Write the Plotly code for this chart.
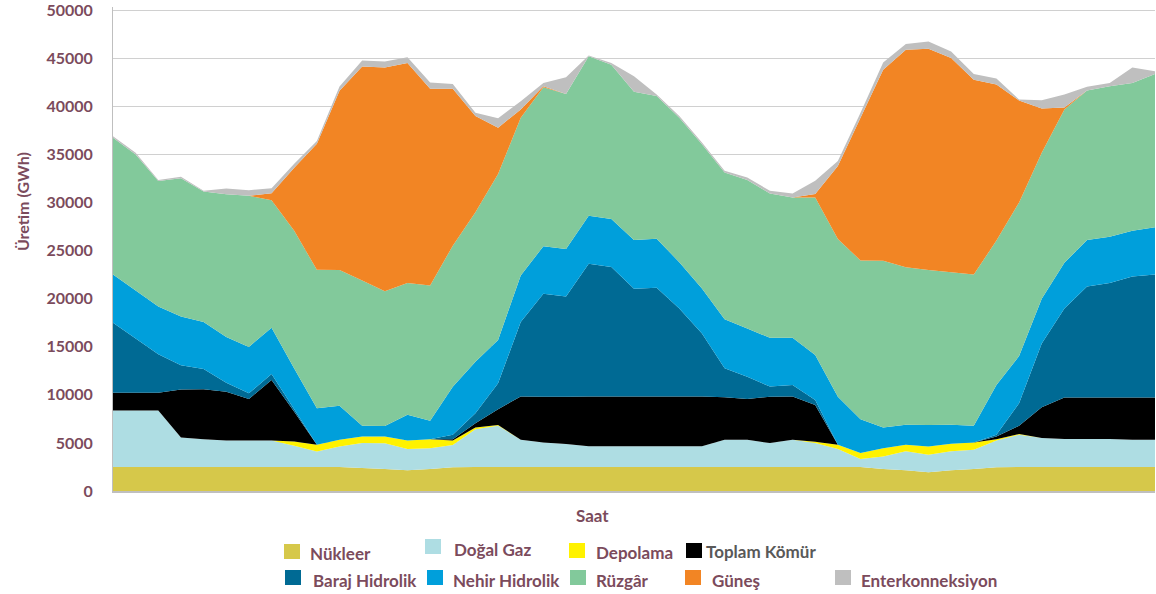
import plotly.graph_objects as go

# ---------------- data (GWh per hour) ----------------
saat = list(range(1, 48))

nukleer = [2500, 2500, 2500, 2500, 2500, 2500, 2500, 2500, 2500, 2500, 2500, 2390, 2280, 2150, 2280, 2460,
           2500, 2500, 2500, 2500, 2500, 2500, 2500, 2500, 2500, 2500, 2500, 2500, 2500, 2500, 2500, 2500,
           2500, 2500, 2280, 2150, 1940, 2150, 2280, 2460, 2500, 2500, 2500, 2500, 2500, 2500, 2500]

dogal_gaz = [5860, 5860, 5860, 3060, 2890, 2750, 2750, 2750, 2200, 1610, 2130, 2590, 2690, 2210, 2170, 2310,
             3930, 4280, 2830, 2550, 2380, 2140, 2140, 2140, 2140, 2140, 2140, 2830, 2830, 2480, 2830, 2480,
             1860, 830, 1310, 1970, 1830, 1970, 2000, 2790, 3350, 3000, 2900, 2900, 2900, 2830, 2830]

depolama = [0, 0, 0, 0, 0, 0, 0, 0, 450, 690, 690, 690, 690, 900, 930, 480,
            170, 70, 0, 0, 0, 0, 0, 0, 0, 0, 0, 0, 0, 0, 0, 140,
            450, 620, 860, 690, 860, 790, 760, 140, 70, 0, 0, 0, 0, 0, 0]

toplam_komur = [1860, 1860, 1860, 5000, 5180, 5070, 4310, 6280, 3100, 0, 0, 0, 0, 0, 0, 140,
                450, 1660, 4490, 4760, 4930, 5180, 5180, 5180, 5180, 5180, 5180, 4420, 4240, 4830, 4490, 3830,
                0, 0, 0, 0, 0, 0, 0, 280, 860, 3210, 4310, 4310, 4310, 4380, 4380]

baraj_hidrolik = [7280, 5620, 4000, 2520, 2100, 930, 590, 620, 240, 0, 0, 0, 0, 0, 0, 450,
                  1040, 2690, 7760, 10700, 10420, 13800, 13460, 11210, 11320, 9140, 6560, 3000, 2310, 1040, 1210, 520,
                  0, 0, 0, 0, 0, 0, 0, 170, 2350, 6620, 9250, 11560, 11900, 12590, 12800]

nehir_hidrolik = [5000, 5000, 4970, 5070, 4900, 4760, 4830, 4830, 4240, 3800, 3550, 1100, 1100, 2660, 1930, 5000,
                  5350, 4490, 4830, 4930, 4930, 5000, 5000, 5070, 5070, 4830, 4660, 5110, 5000, 5070, 4900, 4660,
                  5000, 3520, 2140, 2070, 2240, 1970, 1730, 5180, 4900, 4660, 4760, 4830, 4830, 4760, 4900]

ruzgar = [14210, 14150, 13040, 14350, 13560, 14840, 15700, 13250, 14320, 14390, 14110, 15110, 14010, 13700, 14040, 14660,
          15530, 17250, 16390, 16530, 16110, 16560, 16040, 15390, 14840, 15010, 15010, 15250, 15460, 15010, 14590, 16390,
          16390, 16490, 17350, 16390, 16110, 15870, 15730, 15010, 15970, 15180, 15940, 15530, 15630, 15350, 15940]

gunes = [0, 0, 0, 0, 0, 0, 0, 720, 6560, 13110, 18630, 22250, 23250, 22870, 20460, 16320,
         10010, 4830, 860, 100, 0, 0, 0, 0, 0, 0, 0, 0, 0, 0, 0, 350,
         7590, 14840, 19840, 22600, 22980, 22250, 20250, 16220, 10590, 4590, 200, 0, 0, 0, 0]

enterkonneksiyon = [170, 170, 100, 170, 70, 590, 590, 520, 410, 280, 450, 620, 620, 590, 660, 480,
                    350, 970, 860, 350, 1730, 100, 170, 1620, 170, 170, 170, 170, 240, 280, 410, 1380,
                    520, 520, 760, 590, 760, 690, 590, 620, 100, 860, 1350, 380, 350, 1620, 280]

seri_adlari = ["Nükleer", "Doğal Gaz", "Depolama", "Toplam Kömür", "Baraj Hidrolik",
               "Nehir Hidrolik", "Rüzgâr", "Güneş", "Enterkonneksiyon"]
seri_degerleri = [nukleer, dogal_gaz, depolama, toplam_komur, baraj_hidrolik,
                  nehir_hidrolik, ruzgar, gunes, enterkonneksiyon]
renkler = ["#D6C84A", "#AEDDE3", "#FFF200", "#000000", "#006A94",
           "#009FDB", "#82C99B", "#F28524", "#BFBFBF"]

y_max = 50000
y_step = 5000
y_title = "Üretim (GWh)"
x_title = "Saat"

# ---------------- styling ----------------
TEXT = "#7B4B5C"
FONT = "Lato"
W, H = 1156, 594
L, R, T, B = 113, 1155, 7, 491   # plot area in pixels (top padded 3px so the top grid shows)
Y_TOP = y_max * (B - T) / (B - 10)


def px(xp):
    return (xp - L) / (R - L)


def py(yp):
    return (B - yp) / (B - T)


fig = go.Figure()
for name, vals, col in zip(seri_adlari, seri_degerleri, renkler):
    fig.add_trace(go.Scatter(
        x=saat, y=vals, name=name, mode="none",
        stackgroup="one", fillcolor=col, showlegend=False,
        hovertemplate=name + ": %{y}<extra></extra>"))

# legend drawn as swatches + text (two rows like the original)
legend_pos = [  # (swatch x0, swatch y0, text x, text y center, text colour)
    (284, 544, 308, 553, TEXT),
    (425, 539, 452, 549, TEXT),
    (569, 543, 594, 552, TEXT),
    (686, 543, 704, 551, "#595959"),
    (285, 570, 311, 580, TEXT),
    (427, 570, 451, 580, TEXT),
    (570, 570, 594, 580, TEXT),
    (685, 570, 710, 580, TEXT),
    (835, 570, 859, 580, TEXT),
]
shapes = []
annotations = []
for (sx, sy, tx, ty, tc), name, col in zip(legend_pos, seri_adlari, renkler):
    shapes.append(dict(type="rect", xref="paper", yref="paper",
                       x0=px(sx), x1=px(sx + 16), y0=py(sy + 15), y1=py(sy),
                       fillcolor=col, line=dict(width=0), layer="above"))
    annotations.append(dict(text=name, xref="paper", yref="paper",
                            x=px(tx), y=py(ty), xanchor="left", yanchor="middle",
                            showarrow=False,
                            font=dict(family=FONT, size=17, color=tc, weight="bold")))

annotations.append(dict(text=y_title, xref="paper", yref="paper",
                        x=px(22), y=py(202), xanchor="center", yanchor="middle",
                        textangle=-90, showarrow=False,
                        font=dict(family=FONT, size=16, color=TEXT, weight="bold")))
annotations.append(dict(text=x_title, xref="paper", yref="paper",
                        x=px(592), y=py(515), xanchor="center", yanchor="middle",
                        showarrow=False,
                        font=dict(family=FONT, size=17, color=TEXT, weight="bold")))

fig.update_layout(
    width=W, height=H,
    margin=dict(l=L, r=W - R, t=T, b=H - B, pad=0),
    paper_bgcolor="white", plot_bgcolor="white",
    showlegend=False,
    shapes=shapes, annotations=annotations,
    xaxis=dict(range=[saat[0], saat[-1]], showticklabels=False, showgrid=False,
               zeroline=False, showline=True, linecolor="#BFBFBF", linewidth=2,
               ticks=""),
    yaxis=dict(range=[0, Y_TOP], tickmode="linear", tick0=0, dtick=y_step,
               tickformat="d",
               showgrid=True, gridcolor="#D0D0D0", gridwidth=1, zeroline=False,
               showline=True, linecolor="#BFBFBF", linewidth=1, ticks="",
               ticklabelstandoff=16, ticklabeloverflow="allow",
               tickfont=dict(family=FONT, size=16, color=TEXT, weight="bold")),
)

fig.write_html("out.html", config={"displayModeBar": False},
               post_script="document.body.style.margin='0';")
